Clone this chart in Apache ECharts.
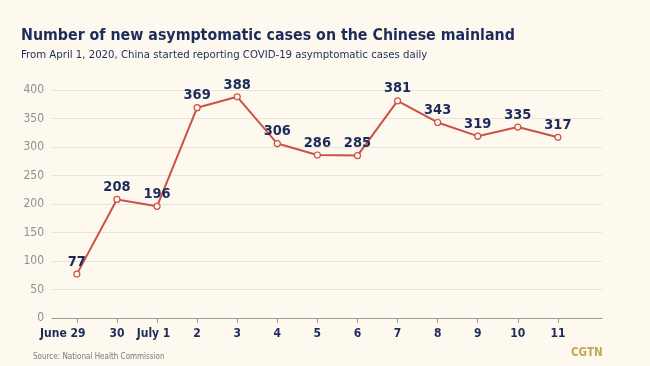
<!DOCTYPE html>
<html><head><meta charset="utf-8">
<script src="https://cdn.jsdelivr.net/npm/echarts@6/dist/echarts.min.js"></script>
<style>html,body{margin:0;padding:0;background:#fdf9ee;}#c{width:650px;height:366px;}</style>
</head><body><div id="c"></div>
<script>
const categories = ['June 29', '30', 'July 1', '2', '3', '4', '5', '6', '7', '8', '9', '10', '11'];
const cases = [77, 208, 196, 369, 388, 306, 286, 285, 381, 343, 319, 335, 317];
const yTicks = [0, 50, 100, 150, 200, 250, 300, 350, 400];

const font = '"DejaVu Sans Condensed", "Liberation Sans Narrow", sans-serif';
const navy = '#1d2b5c';
const idx = categories.map((c, i) => i);
const labelBase = {color: navy, fontFamily: font, fontSize: 12, fontWeight: 'bold'};
const chart = echarts.init(document.getElementById('c'));
chart.setOption({
  backgroundColor: '#fdf9ee',
  animation: false,
  title: [
    {text: 'Number of new asymptomatic cases on the Chinese mainland', left: 16, top: 23,
     textStyle: {fontFamily: font, fontWeight: 'bold', fontSize: 15.8, color: navy}},
    {text: 'From April 1, 2020, China started reporting COVID-19 asymptomatic cases daily', left: 16, top: 45,
     textStyle: {fontFamily: font, fontWeight: 'normal', fontSize: 11.3, color: navy}},
    {text: 'Source: National Health Commission', left: 28, top: 348,
     textStyle: {fontFamily: font, fontWeight: 'normal', fontSize: 8, color: '#777'}},
    {text: 'CGTN', left: 566, top: 342,
     textStyle: {fontFamily: font, fontWeight: 'bold', fontSize: 11.5, color: '#c4a751'}}
  ],
  grid: {left: 52, right: 48, top: 90, bottom: 48},
  xAxis: {
    type: 'value', min: -0.62, max: 13.1,
    axisLine: {show: true, onZero: false, lineStyle: {color: '#999', width: 1}},
    axisTick: {show: true, customValues: idx, length: 5, lineStyle: {color: '#999'}},
    axisLabel: {customValues: idx, margin: 10, ...labelBase,
      formatter: v => {
        const i = Math.round(v);
        if (i === 0) return '{a|' + categories[i] + '}';
        if (i === 2) return '{b|' + categories[i] + '}';
        return categories[i];
      },
      rich: {
        a: {...labelBase, padding: [0, 28, 0, 0]},
        b: {...labelBase, padding: [0, 7, 0, 0]}
      }},
    splitLine: {show: false}
  },
  yAxis: {
    type: 'value', min: yTicks[0], max: yTicks[yTicks.length - 1], interval: 50,
    axisLine: {show: false}, axisTick: {show: false},
    axisLabel: {color: '#8f8f8f', fontFamily: font, fontSize: 12, margin: 8,
      formatter: v => yTicks.includes(v) ? String(v) : ''},
    splitLine: {lineStyle: {color: '#e8e4d8', width: 1}}
  },
  series: [{
    type: 'line', data: cases.map((v, i) => [i, v]),
    symbol: 'circle', symbolSize: 6, showAllSymbol: true,
    lineStyle: {color: '#cc5148', width: 2},
    itemStyle: {color: '#fdf9ee', borderColor: '#cc5148', borderWidth: 1.2},
    label: {show: true, position: 'top', distance: 1, color: navy, fontFamily: font,
      fontWeight: 'bold', fontSize: 14.5}
  }]
});
</script></body></html>
